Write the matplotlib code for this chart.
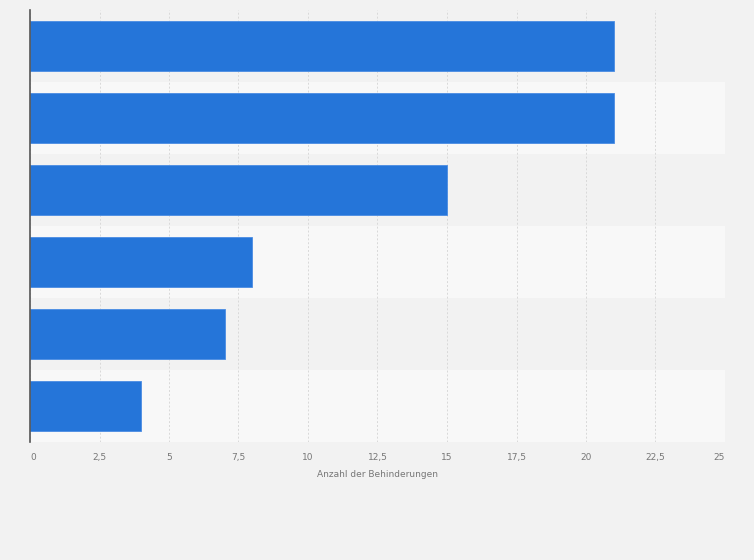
import matplotlib
matplotlib.use("Agg")
import matplotlib.pyplot as plt
import numpy as np

categories = ["Kategorie 1", "Kategorie 2", "Kategorie 3", "Kategorie 4", "Kategorie 5", "Kategorie 6"]
values = [21, 21, 15, 8, 7, 4]
xticks = [0, 2.5, 5, 7.5, 10, 12.5, 15, 17.5, 20, 22.5, 25]
xtick_labels = ["0", "2,5", "5", "7,5", "10", "12,5", "15", "17,5", "20", "22,5", "25"]
xlabel = "Anzahl der Behinderungen"

fig = plt.figure(figsize=(7.54, 5.6), dpi=100)
fig.patch.set_facecolor("#f2f2f2")
ax = fig.add_axes([30/754, 1-442/560, 695/754, 432/560])
ax.set_facecolor("#f8f8f8")

n = len(categories)
y = np.arange(n)
# alternating band shading
for i in range(n):
    if i % 2 == 0:
        ax.axhspan(i - 0.5, i + 0.5, color="#f2f2f2", zorder=0, lw=0)

ax.set_xlim(0, 25)
ax.set_ylim(n - 0.5, -0.5)
ax.set_xticks(xticks)
ax.set_xticklabels(xtick_labels, fontsize=6.5, color="#777777")
labels = ax.get_xticklabels()
labels[0].set_horizontalalignment("left")
labels[-1].set_horizontalalignment("right")
ax.set_yticks(y)
ax.set_yticklabels([])
ax.tick_params(axis="y", length=0)
ax.tick_params(axis="x", length=0, pad=8)
ax.grid(axis="x", color="#d9d9d9", linestyle=(0, (2, 2)), linewidth=0.7, zorder=1)
ax.set_axisbelow(True)

ax.barh(y, values, height=0.69, color="#2575d9", edgecolor="#4a8ce3", linewidth=0.6, zorder=3)

for s in ["top", "right", "bottom"]:
    ax.spines[s].set_visible(False)
ax.spines["left"].set_color("#555555")
ax.spines["left"].set_linewidth(1.2)
ax.spines["left"].set_zorder(4)

ax.set_xlabel(xlabel, fontsize=6.5, color="#777777", labelpad=6)

fig.savefig("out.png", dpi=100, facecolor=fig.get_facecolor())
